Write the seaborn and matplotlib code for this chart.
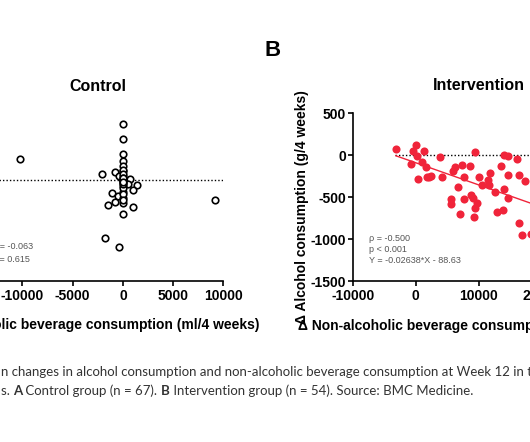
import matplotlib
matplotlib.use("Agg")
import matplotlib.pyplot as plt
import seaborn as sns
import pandas as pd

# ---------------- data ----------------
control_x = [-10210, 0, 0, 0, 0, 0, -2050, -795, -398, 0, 0, 0, 696, 1362, 527, 0,
             1024, -1123, -467, 0, 0, -795, 0, -1461, 1024, 0, -1789, -398, 9115,
             0, 0, 0, 0, 0, 0, 0, 0, 0, 0, 0, 0, 0]
control_y = [312, 835, 621, 387, 287, 212, 88, 128, 63, 137, 63, -12, 13, -76, -61, -87,
             -151, -196, -236, -170, -260, -320, -334, -370, -400, -509, -867, -992, -300,
             160, 100, 30, 0, 0, 0, -40, -120, -210, -300, -50, 40, -20]

interv_x = [-3175, -741, -423, 0, 265, 423, 1005, 1376, 1640, 1746, 2116, 2487, 3862,
            4233, 5608, 5608, 5979, 6243, 6772, 7037, 7354, 7672, 7672, 8624, 8730,
            9153, 9259, 9418, 9683, 9413, 10106, 10476, 11534, 11693, 11799, 12593,
            12857, 13598, 13915, 14021, 14021, 14709, 14709, 14709, 16138, 16455,
            16455, 16878, 17407, 18300]
interv_y = [75, -107, 56, 123, -8, -286, -75, 56, -143, -262, -254, -246, -20,
            -254, -520, -579, -187, -143, -373, -702, -115, -254, -520, -127, -472,
            -512, -738, 40, -571, -631, -254, -353, -294, -353, -214, -433,
            -679, -127, -651, -405, 0, -4, -234, -512, -48, -234,
            -810, -948, -302, -940]

fit_slope = -0.02638
fit_intercept = -88.63
fit_x_range = [-3175, 32000]

control_stats = ["\u03c1 = -0.063", "p = 0.615"]
interv_stats = ["\u03c1 = -0.500", "p < 0.001", "Y = -0.02638*X - 88.63"]

xlabel = "\u0394 Non-alcoholic beverage consumption (ml/4 weeks)"
ylabel = "\u0394 Alcohol consumption (g/4 weeks)"
control_xticks = [-15000, -10000, -5000, 0, 5000, 10000]
control_yticks = [-1500, -1000, -500, 0, 500, 1000]
interv_xticks = [-10000, 0, 10000, 20000, 30000]
interv_yticks = [-1500, -1000, -500, 0, 500]

caption1 = ("n changes in alcohol consumption and non-alcoholic beverage consumption "
            "at Week 12 in the participants")
caption2_parts = [("s. ", "normal"), ("A", "bold"), (" Control group (n = 67). ", "normal"),
                  ("B", "bold"), (" Intervention group (n = 54). Source: BMC Medicine.", "normal")]

# ---------------- style ----------------
sns.set_theme(style="ticks")
plt.rcParams["font.family"] = ["Liberation Sans", "DejaVu Sans"]
plt.rcParams["axes.unicode_minus"] = False
plt.rcParams["text.color"] = "black"
plt.rcParams["axes.labelcolor"] = "black"

W, H = 530, 442
fig = plt.figure(figsize=(W / 100, H / 100), dpi=100)


def px_axes(left, top, width, height):
    return fig.add_axes([left / W, 1 - (top + height) / H, width / W, height / H])


ax1 = px_axes(-27.9, 113.3, 251.3, 167.4)
ax2 = px_axes(352.7, 113.3, 252.0, 168.0)

red = "#F0243A"


def style_axis(ax, xticks, yticks):
    for s in ["top", "right"]:
        ax.spines[s].set_visible(False)
    for s in ["left", "bottom"]:
        ax.spines[s].set_linewidth(1.2)
        ax.spines[s].set_color("black")
    ax.set_xticks(xticks)
    ax.set_yticks(yticks)
    ax.tick_params(axis="both", direction="out", length=3.8, width=1.2, color="black",
                   labelsize=10, labelcolor="black")
    ax.tick_params(axis="x", pad=2)
    ax.tick_params(axis="y", pad=0.8)
    for lab in ax.get_xticklabels() + ax.get_yticklabels():
        lab.set_fontweight("bold")
    ax.set_xlim(xticks[0], xticks[-1])
    ax.set_ylim(yticks[0], yticks[-1])


# Control panel
df_c = pd.DataFrame({"x": control_x, "y": control_y})
ax1.plot([-15000, 10000], [0, 0], color="black", lw=1.0, ls=(0, (1, 1.5)), zorder=1)
sns.scatterplot(data=df_c, x="x", y="y", ax=ax1, s=22, facecolor="white",
                edgecolor="black", linewidth=1.2, zorder=3)
style_axis(ax1, control_xticks, control_yticks)
ax1.set_xlabel(xlabel, fontsize=10, fontweight="bold", ha="right",
               x=(260 + 27.9) / 251.3, labelpad=11)
ax1.set_ylabel(ylabel, fontsize=10, fontweight="bold")
ax1.set_title("Control", fontsize=11.5, fontweight="bold", y=1.163, va="center", pad=0)
for i, t in enumerate(control_stats):
    ax1.text(0.081, (280.7 - 246.7) / 167.4 - i * (12.6 / 167.4), t, transform=ax1.transAxes,
             fontsize=6.5, color="#555555", va="center", ha="left")

# Intervention panel
df_i = pd.DataFrame({"x": interv_x, "y": interv_y})
ax2.plot([-3300, 30000], [0, 0], color="black", lw=1.0, ls=(0, (1, 1.5)), zorder=1)
fit_df = pd.DataFrame({"x": fit_x_range,
                       "y": [fit_slope * v + fit_intercept for v in fit_x_range]})
sns.lineplot(data=fit_df, x="x", y="y", ax=ax2, color=red, lw=1.0, zorder=2)
sns.scatterplot(data=df_i, x="x", y="y", ax=ax2, s=34, color=red, edgecolor=red,
                linewidth=0, zorder=3)
style_axis(ax2, interv_xticks, interv_yticks)
ax2.set_xlabel(xlabel, fontsize=10, fontweight="bold", ha="left",
               x=(298 - 352.7) / 252.0, labelpad=11)
ax2.set_ylabel(ylabel, fontsize=10, fontweight="bold", va="center")
ax2.yaxis.set_label_coords((301.7 - 352.7) / 252.0, (281.3 - 206.7) / 168.0)
ax2.set_title("Intervention", fontsize=11.5, fontweight="bold", y=1.1625, va="center", pad=0)
for i, t in enumerate(interv_stats):
    ax2.text(0.066, (281.3 - 238.3) / 168.0 - i * (11.2 / 168.0), t, transform=ax2.transAxes,
             fontsize=6.5, color="#555555", va="center", ha="left")

# Panel letter
fig.text(273 / W, 1 - 51 / H, "B", fontsize=16, fontweight="bold", ha="center", va="center")

# Caption
cap_font = ["Lato", "DejaVu Sans"]
cap_kw = dict(fontsize=9.5, family=cap_font, color="#333333")
fig.text(1 / W, 1 - 371.7 / H, caption1, va="center", ha="left", **cap_kw)
anchor = fig.text(1 / W, 1 - 390.7 / H, caption2_parts[0][0], va="center", ha="left",
                  fontweight=caption2_parts[0][1], **cap_kw)
for txt, wt in caption2_parts[1:]:
    anchor = plt.annotate(txt, xy=(1, 0), xycoords=anchor, xytext=(0, 0),
                          textcoords="offset points", va="bottom", ha="left",
                          fontweight=wt, annotation_clip=False, **cap_kw)

fig.savefig("out.png", dpi=100)
